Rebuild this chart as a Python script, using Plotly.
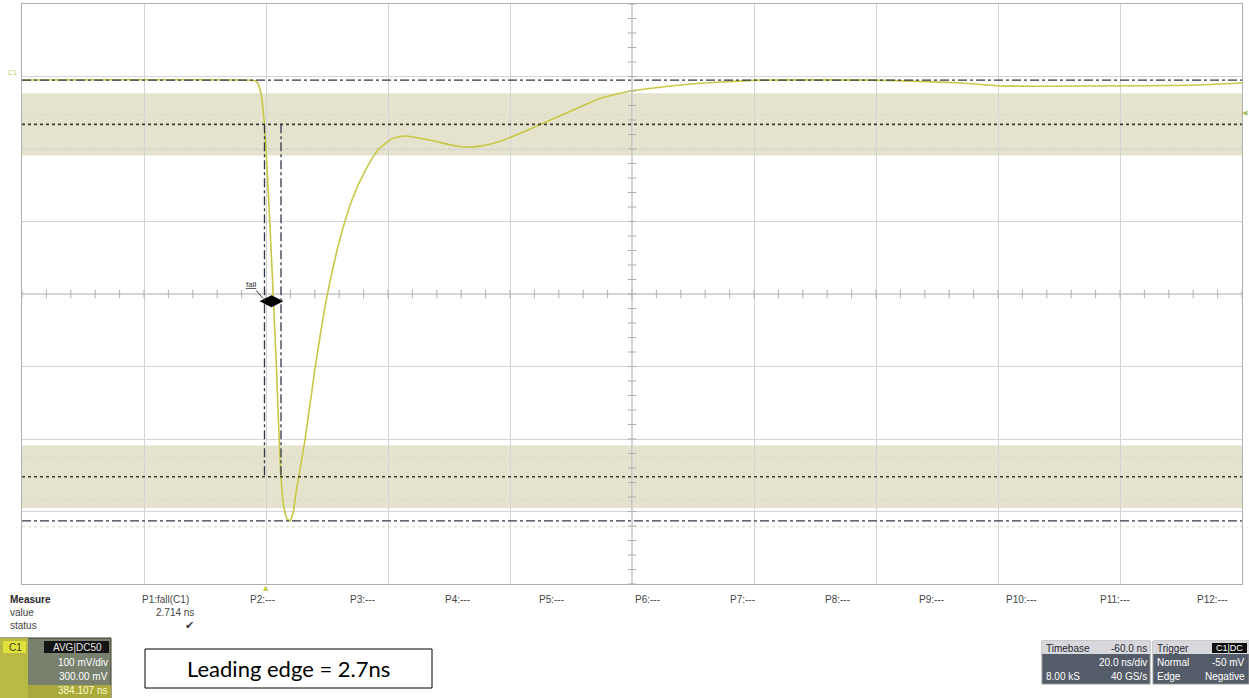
import plotly.graph_objects as go

# ---------------- data ----------------
time_ns = [-40, -20, -5, -1.8, -1.3, -0.8, -0.3, 0.2, 0.7, 1.2, 1.7, 2.45, 2.95, 3.45, 3.95,
           4.45, 5.0, 6.4, 8.0, 10.0, 12.1, 14.1, 16.3, 18.4, 20.6, 22.8, 27.0, 31.9, 35.2,
           38.5, 41.8, 45.1, 50.0, 55.0, 59.9, 68.0, 74.6, 81.1, 99.2, 113.9, 120.5, 136.9,
           151.6, 160]
volt_mv = [-4.8, -4.5, -4.8, -6, -10, -25, -62, -130, -215, -305, -400, -552, -595, -610, -613,
           -601, -570, -501, -405, -303, -225, -170, -129, -101, -86, -82, -88, -97, -96,
           -89, -78, -65.5, -47.6, -29.7, -20, -11.7, -7.6, -5, -5, -9, -13, -13,
           -12, -9]

top_level = -5
base_level = -613
level_10 = -66
level_90 = -552
band_half = 43
fall_start = -0.25
fall_end = 2.46
fall_marker = [0.9, -310]

x_range = [-40, 160]
y_range = [-700, 100]
ns_per_div = 20
mv_per_div = 100

measure_heads = ["P1:fall(C1)", "P2:---", "P3:---", "P4:---", "P5:---", "P6:---",
                 "P7:---", "P8:---", "P9:---", "P10:---", "P11:---", "P12:---"]
measure_value = "2.714 ns"
row_labels = ["Measure", "value", "status"]
ch_lines = ["100 mV/div", "300.00 mV", "384.107 ns"]
tb_lines = ["Timebase", "-60.0 ns", "20.0 ns/div", "8.00 kS", "40 GS/s"]
trig_lines = ["Trigger", "Normal", "-50 mV", "Edge", "Negative"]
note_text = "Leading edge = 2.7ns"

# ---------------- geometry helpers ----------------
W, H = 1249, 698
L, R, T, B = 22, 1242, 4, 584


def px(x):
    return (x - L) / (R - L)


def py(y):
    return (B - y) / (B - T)


fig = go.Figure()

# waveform
fig.add_trace(go.Scatter(x=time_ns, y=volt_mv, mode="lines",
                         line=dict(color="rgb(200,200,70)", width=1.6, shape="spline", smoothing=0.6),
                         hoverinfo="skip", showlegend=False))

# minor ticks on centre axes
cx = (x_range[0] + x_range[1]) / 2
cy = (y_range[0] + y_range[1]) / 2
tx = [x_range[0] + i * ns_per_div / 5 for i in range(int((x_range[1] - x_range[0]) / (ns_per_div / 5)) + 1)]
ty = [y_range[0] + i * mv_per_div / 5 for i in range(int((y_range[1] - y_range[0]) / (mv_per_div / 5)) + 1)]
tick_col = "rgb(175,175,175)"
fig.add_trace(go.Scatter(x=tx, y=[cy] * len(tx), mode="markers",
                         marker=dict(symbol="line-ns-open", size=6, color=tick_col,
                                     line=dict(color=tick_col, width=1)),
                         hoverinfo="skip", showlegend=False))
fig.add_trace(go.Scatter(x=[cx] * len(ty), y=ty, mode="markers",
                         marker=dict(symbol="line-ew-open", size=6, color=tick_col,
                                     line=dict(color=tick_col, width=1)),
                         hoverinfo="skip", showlegend=False))

# fall marker
fig.add_trace(go.Scatter(x=[fall_marker[0]], y=[fall_marker[1]], mode="markers",
                         marker=dict(symbol="diamond-wide", size=17, color="black"),
                         hoverinfo="skip", showlegend=False))

shapes = []
# bands
for lv in (level_10, level_90):
    shapes.append(dict(type="rect", xref="x", yref="y", x0=x_range[0], x1=x_range[1],
                       y0=lv - band_half, y1=lv + band_half, fillcolor="rgb(229,227,205)",
                       line=dict(width=0), layer="below"))
# centre lines
shapes.append(dict(type="line", xref="x", yref="y", x0=x_range[0], x1=x_range[1], y0=cy, y1=cy,
                   line=dict(color="rgb(170,170,170)", width=1), layer="below"))
shapes.append(dict(type="line", xref="x", yref="y", x0=cx, x1=cx, y0=y_range[0], y1=y_range[1],
                   line=dict(color="rgb(170,170,170)", width=1), layer="below"))
# faint lines
for lv in (0, -53, -99, -525, -585, -621):
    shapes.append(dict(type="line", xref="x", yref="y", x0=x_range[0], x1=x_range[1], y0=lv, y1=lv,
                       line=dict(color="rgb(215,215,200)", width=1, dash="dot"), layer="below"))
# top/base dash-dot
for lv in (top_level, base_level):
    shapes.append(dict(type="line", xref="x", yref="y", x0=x_range[0], x1=x_range[1], y0=lv, y1=lv,
                       line=dict(color="rgb(50,55,70)", width=1.4, dash="dashdot")))
# 10/90 dotted
for lv in (level_10, level_90):
    shapes.append(dict(type="line", xref="x", yref="y", x0=x_range[0], x1=x_range[1], y0=lv, y1=lv,
                       line=dict(color="rgb(60,60,50)", width=1.6, dash="dot")))
# fall cursors
for t in (fall_start, fall_end):
    shapes.append(dict(type="line", xref="x", yref="y", x0=t, x1=t, y0=level_10, y1=level_90,
                       line=dict(color="rgb(50,55,70)", width=1.3, dash="dashdot")))

# bottom-left channel box
shapes.append(dict(type="rect", xref="paper", yref="paper", x0=px(0), x1=px(111), y0=py(698), y1=py(638),
                   fillcolor="rgb(120,128,110)", line=dict(color="rgb(60,60,40)", width=1)))
shapes.append(dict(type="rect", xref="paper", yref="paper", x0=px(0), x1=px(28), y0=py(698), y1=py(638),
                   fillcolor="rgb(185,185,70)", line=dict(width=0)))
shapes.append(dict(type="rect", xref="paper", yref="paper", x0=px(3), x1=px(26), y0=py(653), y1=py(641),
                   fillcolor="rgb(225,225,60)", line=dict(width=0)))
shapes.append(dict(type="rect", xref="paper", yref="paper", x0=px(44), x1=px(109), y0=py(653), y1=py(641),
                   fillcolor="rgb(20,20,20)", line=dict(width=0)))
shapes.append(dict(type="rect", xref="paper", yref="paper", x0=px(28), x1=px(111), y0=py(698), y1=py(685),
                   fillcolor="rgb(170,170,60)", line=dict(width=0)))
# note box
shapes.append(dict(type="rect", xref="paper", yref="paper", x0=px(145), x1=px(432), y0=py(688), y1=py(649),
                   fillcolor="white", line=dict(color="black", width=1)))
# timebase / trigger boxes
for x0, x1 in ((1042, 1150), (1153, 1249)):
    shapes.append(dict(type="rect", xref="paper", yref="paper", x0=px(x0), x1=px(x1), y0=py(684), y1=py(641),
                       fillcolor="rgb(85,92,105)", line=dict(color="rgb(150,150,150)", width=1)))
    shapes.append(dict(type="rect", xref="paper", yref="paper", x0=px(x0), x1=px(x1), y0=py(654), y1=py(641),
                       fillcolor="rgb(215,215,220)", line=dict(width=0)))
shapes.append(dict(type="rect", xref="paper", yref="paper", x0=px(1212), x1=px(1247), y0=py(653), y1=py(643),
                   fillcolor="rgb(15,15,15)", line=dict(width=0)))

ann = []
txt = dict(family="Liberation Sans, Arial, sans-serif", size=10, color="rgb(70,70,70)")


def A(x, y, text, xa="left", font=None, **kw):
    ann.append(dict(xref="paper", yref="paper", x=px(x), y=py(y), text=text, showarrow=False,
                    xanchor=xa, yanchor="middle", font=font or txt, **kw))


A(8, 599, "<b>" + row_labels[0] + "</b>", font=dict(family="Liberation Sans, Arial", size=10, color="rgb(40,40,40)"))
A(8, 612, row_labels[1])
A(8, 625, row_labels[2])
head_x = [140, 248, 348, 443, 537, 633, 728, 823, 917, 1004, 1098, 1195]
for hx, h in zip(head_x, measure_heads):
    A(hx, 599, h)
A(196, 612, measure_value, xa="right")
A(196, 625, "✔", xa="right", font=dict(family="DejaVu Sans", size=11, color="rgb(60,60,60)"))

A(15, 647, "C1", xa="center", font=dict(family="Liberation Sans", size=10, color="rgb(60,60,20)"))
A(77, 647, "AVG|DC50", xa="center", font=dict(family="Liberation Sans", size=10, color="rgb(230,230,230)"))
A(110, 662, ch_lines[0], xa="right", font=dict(family="Liberation Sans", size=10, color="white"))
A(110, 676, ch_lines[1], xa="right", font=dict(family="Liberation Sans", size=10, color="white"))
A(110, 690, ch_lines[2], xa="right", font=dict(family="Liberation Sans", size=10, color="rgb(250,250,200)"))

A(288, 668, note_text, xa="center", font=dict(family="Lato, Carlito, sans-serif", size=22, color="black"))

wf = dict(family="Liberation Sans", size=10, color="white")
df = dict(family="Liberation Sans", size=10, color="rgb(40,40,50)")
A(1044, 648, tb_lines[0], font=df)
A(1149, 648, tb_lines[1], xa="right", font=df)
A(1149, 662, tb_lines[2], xa="right", font=wf)
A(1044, 676, tb_lines[3], font=wf)
A(1149, 676, tb_lines[4], xa="right", font=wf)
A(1155, 648, trig_lines[0], font=df)
A(1229, 648, "C1|DC", xa="center", font=dict(family="Liberation Sans", size=9, color="white"))
A(1155, 662, trig_lines[1], font=wf)
A(1247, 662, trig_lines[2], xa="right", font=wf)
A(1155, 676, trig_lines[3], font=wf)
A(1247, 676, trig_lines[4], xa="right", font=wf)

# markers around grid
A(266, 588, "▲", xa="center", font=dict(family="DejaVu Sans", size=7, color="rgb(200,200,70)"))
A(12, 73, "C1", xa="center", font=dict(family="Liberation Sans", size=7, color="rgb(200,200,90)"))
A(1245, 113, "◀", xa="center", font=dict(family="DejaVu Sans", size=7, color="rgb(170,190,90)"))

# fall label
ann.append(dict(xref="x", yref="y", x=fall_marker[0] - 1.4, y=fall_marker[1] + 4, ax=-12, ay=-14,
                text="<u>fall</u>", showarrow=True, arrowhead=0, arrowwidth=1, arrowcolor="rgb(60,60,60)",
                font=dict(family="Liberation Sans", size=8, color="rgb(50,50,50)")))

fig.update_layout(
    width=W, height=H, margin=dict(l=L, r=W - R, t=T, b=H - B),
    paper_bgcolor="white", plot_bgcolor="white",
    shapes=shapes, annotations=ann, showlegend=False,
    xaxis=dict(range=x_range, dtick=ns_per_div, tick0=x_range[0], showticklabels=False, ticks="",
               showgrid=True, gridcolor="rgb(212,212,212)", gridwidth=1, zeroline=False,
               showline=True, linecolor="rgb(175,175,175)", mirror=True, fixedrange=True),
    yaxis=dict(range=y_range, dtick=mv_per_div, tick0=y_range[0], showticklabels=False, ticks="",
               showgrid=True, gridcolor="rgb(212,212,212)", gridwidth=1, zeroline=False,
               showline=True, linecolor="rgb(175,175,175)", mirror=True, fixedrange=True),
)

fig.write_html("out.html", config={"displayModeBar": False},
               post_script="document.body.style.margin='0';document.body.style.overflow='hidden';")
